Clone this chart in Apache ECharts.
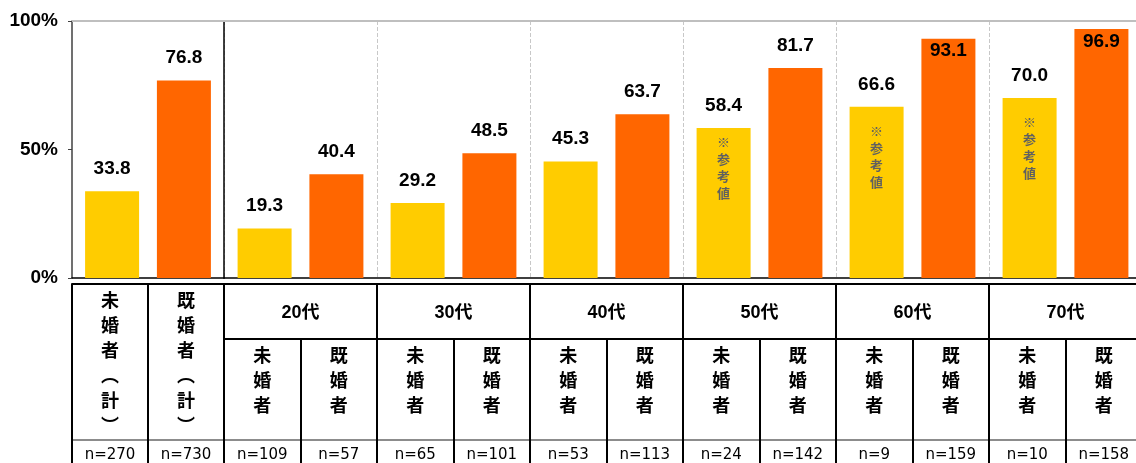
<!DOCTYPE html>
<html><head><meta charset="utf-8">
<script src="https://cdn.jsdelivr.net/npm/echarts@6/dist/echarts.min.js"></script>
<style>html,body{margin:0;padding:0;background:#fff;overflow:hidden}#c{width:1136px;height:463px}</style>
</head><body><div id="c"></div>
<script>
// ---- data ----
const totalLabels = ['未婚者（計）', '既婚者（計）'];
const totalValues = [33.8, 76.8];
const totalN = [270, 730];
const ageGroups = ['20代', '30代', '40代', '50代', '60代', '70代'];
const statusLabels = ['未婚者', '既婚者'];
const unmarried = [19.3, 29.2, 45.3, 58.4, 66.6, 70.0];
const married = [40.4, 48.5, 63.7, 81.7, 93.1, 96.9];
const unmarriedN = [109, 65, 53, 24, 9, 10];
const marriedN = [57, 101, 113, 142, 159, 158];
const referenceOnly = [false, false, false, true, true, true];
const noteText = '※参考値';
const yTickLabels = ['0%', '50%', '100%'];

// ---- styles ----
const LATIN = '"Liberation Sans", Arial, "Noto Sans CJK JP", sans-serif';
const NFONT = '"DejaVu Sans", sans-serif';
const CJK = '"Noto Sans CJK JP", sans-serif';
const YELLOW = '#FFCC00', ORANGE = '#FF6600';
const blk2 = { color: '#000', width: 2 };
const noteDistance = { 3: 6, 4: 16, 5: 15 };

const vertical = s => s.replace('（', '︵').replace('）', '︶').split('').join('\n');
const subCats = ageGroups.flatMap(g => statusLabels.map(s => g + '|' + s));
const subN = ageGroups.flatMap((g, i) => ['n=' + unmarriedN[i], 'n=' + marriedN[i]]);

const hiddenBase = { type: 'category', axisTick: { show: false }, axisLabel: { show: false }, splitLine: { show: false } };
const vertLabel = { interval: 0, margin: 4, verticalAlign: 'top', fontFamily: CJK, fontSize: 18, fontWeight: 'bold', lineHeight: 25, color: '#000' };
const nLabel = { interval: 0, margin: 8, fontFamily: NFONT, fontSize: 15, color: '#000' };
const nLine = { onZero: false, lineStyle: { color: '#8c8c8c', width: 2 } };
const topLine = { onZero: false, lineStyle: { color: '#bfbfbf', width: 2 } };

const valueLabel = {
  show: true, position: 'top', distance: 13, fontFamily: LATIN, fontSize: 19, fontWeight: 'bold',
  color: '#000', formatter: p => Number(p.value).toFixed(1)
};
const barBase = { type: 'bar', barWidth: 54, barGap: '33%', label: valueLabel, silent: true };
// labels of very tall bars sit inside the bar top, as in the source
const withLabelPlacement = arr => arr.map(v => v > 90 ? { value: v, label: { position: 'insideTop', distance: 3 } } : v);

const option = {
  animation: false,
  grid: [
    { left: 72, top: 21, width: 152, bottom: 185, outerBoundsMode: 'none', containLabel: false },
    { left: 224, top: 21, width: 918, bottom: 185, outerBoundsMode: 'none', containLabel: false }
  ],
  xAxis: [
    // grid A
    Object.assign({}, hiddenBase, { gridIndex: 0, data: ['計'], position: 'bottom', axisLine: { onZero: false, lineStyle: { color: '#000', width: 1.5 } } }),
    { gridIndex: 0, type: 'category', data: totalLabels, position: 'bottom', offset: 6,
      axisLine: { onZero: false, lineStyle: blk2 }, axisTick: { show: true, length: 179, lineStyle: blk2 },
      axisLabel: Object.assign({}, vertLabel, { formatter: v => vertical(v) }), splitLine: { show: false } },
    { gridIndex: 0, type: 'category', data: totalN.map(n => 'n=' + n), position: 'bottom', offset: 162,
      axisLine: nLine, axisTick: { show: false }, axisLabel: nLabel },
    Object.assign({}, hiddenBase, { gridIndex: 0, data: ['計'], position: 'top', axisLine: topLine }),
    // grid B
    Object.assign({}, hiddenBase, { gridIndex: 1, data: ageGroups, position: 'bottom',
      axisLine: { onZero: false, lineStyle: { color: '#000', width: 1.5 } },
      splitLine: { show: true, lineStyle: { color: '#c8c8c8', type: 'dashed', width: 1 } } }),
    { gridIndex: 1, type: 'category', data: ageGroups, position: 'bottom', offset: 6,
      axisLine: { onZero: false, lineStyle: blk2 }, axisTick: { show: true, length: 179, lineStyle: blk2 },
      axisLabel: { interval: 0, margin: 29, verticalAlign: 'middle', fontFamily: LATIN, fontSize: 18, fontWeight: 'bold', color: '#000' } },
    { gridIndex: 1, type: 'category', data: subCats, position: 'bottom', offset: 61,
      axisLine: { onZero: false, lineStyle: blk2 }, axisTick: { show: true, length: 124, lineStyle: blk2 },
      axisLabel: Object.assign({}, vertLabel, { formatter: v => vertical(v.split('|')[1]) }) },
    { gridIndex: 1, type: 'category', data: subN, position: 'bottom', offset: 162,
      axisLine: nLine, axisTick: { show: false }, axisLabel: nLabel },
    Object.assign({}, hiddenBase, { gridIndex: 1, data: ageGroups, position: 'top', axisLine: topLine }),
    Object.assign({}, hiddenBase, { gridIndex: 1, data: ageGroups, position: 'bottom', show: false })
  ],
  yAxis: [
    { gridIndex: 0, type: 'value', min: 0, max: 100, interval: 50,
      axisLine: { show: true, lineStyle: { color: '#404040', width: 1.5 } },
      axisTick: { show: true, length: 4, lineStyle: { color: '#404040' } },
      axisLabel: { formatter: v => yTickLabels[v / 50], fontFamily: LATIN, fontSize: 19, fontWeight: 'bold', color: '#000', margin: 14 },
      splitLine: { show: false } },
    { gridIndex: 1, type: 'value', min: 0, max: 100, interval: 50,
      axisLine: { show: true, lineStyle: { color: '#000', width: 1.5 } },
      axisTick: { show: false }, axisLabel: { show: false }, splitLine: { show: false } }
  ],
  series: [
    Object.assign({}, barBase, { xAxisIndex: 0, yAxisIndex: 0, data: withLabelPlacement([totalValues[0]]), itemStyle: { color: YELLOW } }),
    Object.assign({}, barBase, { xAxisIndex: 0, yAxisIndex: 0, data: withLabelPlacement([totalValues[1]]), itemStyle: { color: ORANGE } }),
    Object.assign({}, barBase, { xAxisIndex: 4, yAxisIndex: 1, data: withLabelPlacement(unmarried), itemStyle: { color: YELLOW } }),
    Object.assign({}, barBase, { xAxisIndex: 4, yAxisIndex: 1, data: withLabelPlacement(married), itemStyle: { color: ORANGE } }),
    { type: 'bar', xAxisIndex: 9, yAxisIndex: 1, barWidth: 54, barGap: '33%', silent: true, z: 5,
      itemStyle: { color: 'rgba(0,0,0,0)' },
      label: { show: true, position: 'insideTop', formatter: () => vertical(noteText), fontFamily: CJK,
        fontSize: 13, fontWeight: 'bold', lineHeight: 17, color: '#606060' },
      data: unmarried.map((v, i) => referenceOnly[i] ? { value: v, label: { distance: noteDistance[i] } } : '-') },
    { type: 'bar', xAxisIndex: 9, yAxisIndex: 1, barWidth: 54, barGap: '33%', silent: true,
      data: ageGroups.map(() => '-') }
  ]
};
echarts.init(document.getElementById('c')).setOption(option);
</script></body></html>
